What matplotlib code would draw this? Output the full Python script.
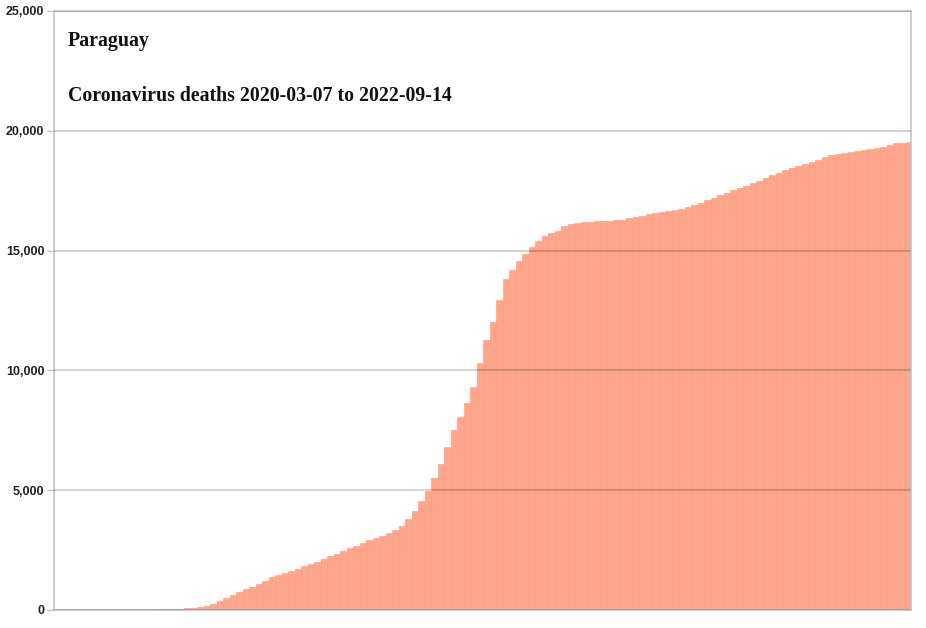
import numpy as np
import matplotlib.pyplot as plt

# cumulative deaths, one value per week starting 2020-03-07
week_deaths = [
    0, 2, 3, 5, 7, 8, 9, 10, 11, 11,
    11, 12, 13, 13, 16, 20, 25, 34, 42, 55,
    75, 100, 125, 150, 250, 360, 490, 630, 740, 860,
    970, 1100, 1210, 1360, 1440, 1540, 1620, 1710, 1820, 1910,
    2020, 2115, 2240, 2350, 2460, 2570, 2680, 2790, 2900, 2990,
    3100, 3220, 3340, 3500, 3800, 4120, 4550, 4980, 5500, 6100,
    6800, 7500, 8050, 8630, 9300, 10300, 11250, 12000, 12950, 13800,
    14200, 14550, 14850, 15150, 15420, 15600, 15750, 15830, 16020, 16110,
    16160, 16190, 16210, 16220, 16230, 16240, 16260, 16280, 16350, 16420,
    16460, 16510, 16560, 16600, 16650, 16680, 16730, 16820, 16910, 17000,
    17110, 17210, 17310, 17410, 17510, 17600, 17700, 17810, 17920, 18030,
    18140, 18250, 18350, 18430, 18540, 18630, 18710, 18800, 18900, 18980,
    19030, 19060, 19110, 19160, 19190, 19220, 19270, 19340, 19420, 19470,
    19500, 19520,
]
n_days = 922
y_ticks = [0, 5000, 10000, 15000, 20000, 25000]
country = 'Paraguay'
subtitle = 'Coronavirus deaths 2020-03-07 to 2022-09-14'

fig = plt.figure(figsize=(9.26, 6.28), dpi=100)
ax = fig.add_axes([0.0583, 0.0287, 0.9252, 0.9538])

days = np.arange(len(week_deaths)) * 7
ax.bar(days, week_deaths, width=7, align='edge',
       color='#fea68c', edgecolor='#fa9a80', linewidth=0.4, zorder=1)

ax.set_xlim(0, n_days)
ax.set_ylim(0, 25000)
ax.set_yticks(y_ticks)
ax.set_yticklabels([f'{t:,}' for t in y_ticks])
ax.set_xticks([])

for t in y_ticks:
    ax.axhline(t, color='black', alpha=0.2, linewidth=1.2, zorder=3)

for side in ['left', 'right', 'top', 'bottom']:
    ax.spines[side].set_color('#c4c4c4')
    ax.spines[side].set_linewidth(1.2)

ax.tick_params(axis='y', length=5, width=1, color='#c4c4c4', pad=2,
               labelsize=9, labelcolor='#222222')
for lbl in ax.get_yticklabels():
    lbl.set_fontfamily('Liberation Sans')
    lbl.set_fontweight('bold')

ax.text(0.0165, 0.950, country, transform=ax.transAxes, va='center',
        ha='left', fontsize=14.3, fontweight='bold',
        family='Liberation Serif', color='#111111')
ax.text(0.0165, 0.858, subtitle, transform=ax.transAxes, va='center',
        ha='left', fontsize=14.3, fontweight='bold',
        family='Liberation Serif', color='#111111')

fig.savefig('out.png', dpi=100)
plt.close('all')
